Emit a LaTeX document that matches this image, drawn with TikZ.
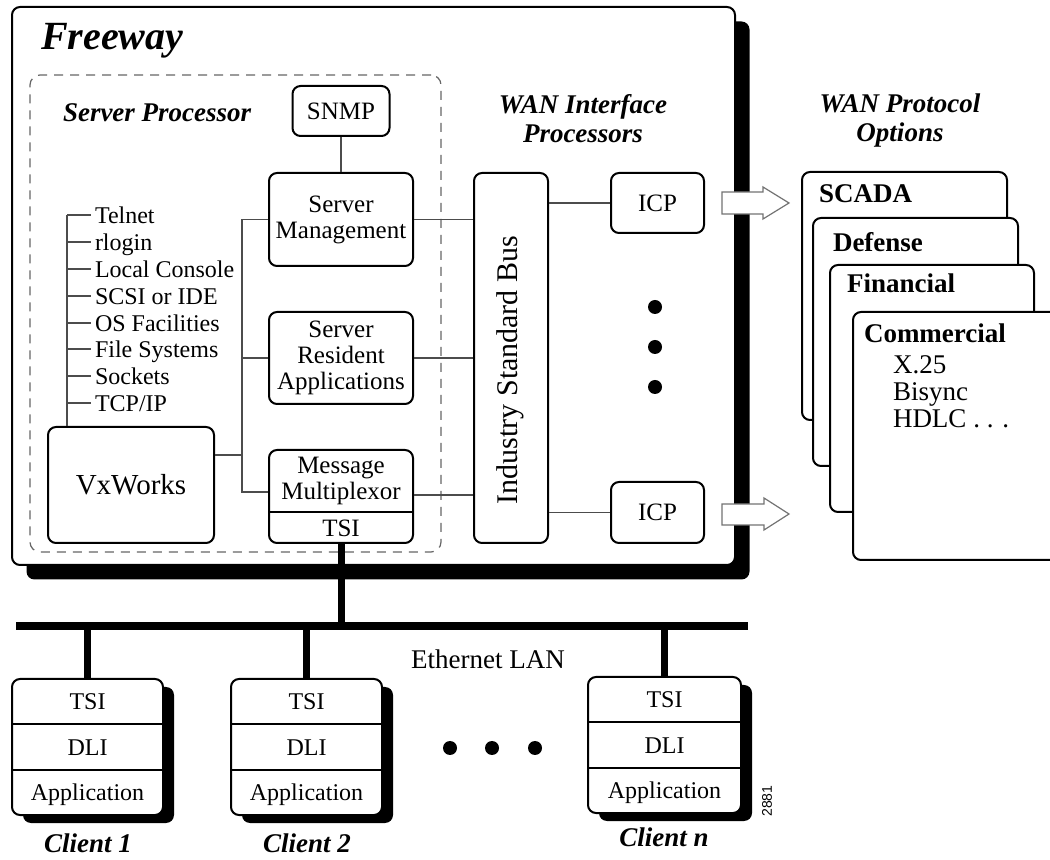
\documentclass[tikz,border=0pt]{standalone}
\usepackage{fontspec}
\setmainfont{Liberation Serif}
\newfontfamily\fignumfont{Liberation Sans}
\usetikzlibrary{positioning}

\tikzset{every picture/.style={line width=1pt}}
\tikzset{
  pbox/.style={draw, fill=white, rounded corners=4pt, line width=1pt, inner sep=0pt, align=center, font=\fontsize{12.5}{13}\selectfont},
  shd/.style={fill=black, rounded corners=4pt, inner sep=0pt},
  link/.style={draw=black!70, line width=0.6pt},
  lanwire/.style={line width=4pt},
  lantap/.style={line width=3.5pt},
  hdr/.style={inner sep=0pt, align=center, font=\fontsize{13.5}{14.5}\selectfont\bfseries\itshape},
  listitem/.style={anchor=west, inner sep=2pt, outer sep=0pt, text height=12pt, text depth=3pt, font=\fontsize{12}{13}\selectfont},
  card/.style={draw, fill=white, rounded corners=4pt, line width=1pt, inner sep=0pt},
  cardtxt/.style={anchor=base west, inner sep=0pt, font=\fontsize{13.5}{14}\selectfont\bfseries},
  prototxt/.style={anchor=base west, inner sep=0pt, font=\fontsize{13.5}{14}\selectfont},
  clientrow/.style={minimum width=75.5pt, minimum height=22.67pt, inner sep=0pt, outer sep=0pt, text height=10.5pt, text depth=2.3pt, font=\fontsize{12}{13}\selectfont},
  wanarrow/.style={draw=black!55, fill=white, line width=0.6pt},
  ellipsisdot/.style={circle, fill=black, minimum size=7pt, inner sep=0pt}
}

\begin{document}
\begin{tikzpicture}[x=0.5pt,y=0.5pt,yscale=-1,xscale=1]
\useasboundingbox (0,0) rectangle (1050,860);

%Freeway chassis with its shadow
\node[shd, minimum width=361.5pt, minimum height=279pt] (fwshd) at (388,300.5) {};
\node[pbox, minimum width=361.5pt, minimum height=279pt] (freeway) at (373.5,286) {};
\node[anchor=base west, inner sep=0pt, font=\fontsize{20}{22}\selectfont\bfseries\itshape] (fwtitle) at (40,50) {Freeway};

%Server Processor
\node[draw=black!60, dash pattern=on 4.5pt off 3.5pt, rounded corners=5pt, line width=0.6pt, minimum width=205.5pt, minimum height=238.5pt, inner sep=0pt] (sp) at (235.5,313.5) {};
\node[hdr, anchor=base west] (sptitle) at (62,122) {Server Processor};

\node[pbox, minimum width=48.5pt, minimum height=25pt] (snmp) at (341,111) {SNMP};
\node[pbox, minimum width=72pt, minimum height=46.5pt] (smgmt) at (341,219.5) {Server\\Management};
\node[pbox, minimum width=72pt, minimum height=46pt] (sra) at (341,358) {Server\\Resident\\Applications};
\node[pbox, minimum width=72pt, minimum height=46.5pt] (mux) at (341,496.5) {};
\node[inner sep=0pt, align=center, font=\fontsize{12.5}{13}\selectfont] (muxtxt) at (341,481) {Message\\Multiplexor};
\node[inner sep=0pt, font=\fontsize{12.5}{13}\selectfont] (muxtsi) at (341,528) {TSI};
\coordinate (muxdiv) at (341,512);
\draw (muxdiv -| mux.west) -- (muxdiv -| mux.east);
\node[pbox, minimum width=83pt, minimum height=58pt, font=\fontsize{14.5}{16}\selectfont] (vxworks) at (131,485) {VxWorks};

%services on top of VxWorks
\coordinate (lst) at (67,215);
\node[listitem] (telnet) at (91,215) {Telnet};
\node[listitem] (rlogin) at (91,242) {rlogin};
\node[listitem] (console) at (91,269) {Local Console};
\node[listitem] (scsi) at (91,296) {SCSI or IDE};
\node[listitem] (osfac) at (91,323) {OS Facilities};
\node[listitem] (filesys) at (91,349) {File Systems};
\node[listitem] (sockets) at (91,376) {Sockets};
\node[listitem] (tcpip) at (91,403) {TCP/IP};
\draw[link] (lst) -- (lst |- vxworks.north);
\draw[link] (telnet.west -| lst) -- (telnet.west);
\draw[link] (rlogin.west -| lst) -- (rlogin.west);
\draw[link] (console.west -| lst) -- (console.west);
\draw[link] (scsi.west -| lst) -- (scsi.west);
\draw[link] (osfac.west -| lst) -- (osfac.west);
\draw[link] (filesys.west -| lst) -- (filesys.west);
\draw[link] (sockets.west -| lst) -- (sockets.west);
\draw[link] (tcpip.west -| lst) -- (tcpip.west);

%links inside the server processor
\coordinate (vjoin) at (242,492);
\coordinate (vxjoin) at (242,455);
\draw[link] (snmp.south) -- (smgmt.north);
\draw[link] (smgmt.west) -| (vjoin) -- (vjoin -| mux.west);
\draw[link] (sra.west) -- (sra.west -| vjoin);
\draw[link] (vxjoin -| vxworks.east) -- (vxjoin);

%WAN interface processors
\node[hdr] (wiptitle) at (583,119) {WAN Interface\\Processors};
\node[pbox, minimum width=37pt, minimum height=185pt] (isbus) at (511,358) {};
\node[inner sep=0pt, rotate=90, font=\fontsize{15}{16}\selectfont] (isbustxt) at (510,370) {Industry Standard Bus};
\coordinate (muxbus) at (440,495);
\draw[link] (smgmt.east) -- (smgmt.east -| isbus.west);
\draw[link] (sra.east) -- (sra.east -| isbus.west);
\draw[link] (muxbus -| mux.east) -- (muxbus -| isbus.west);

\node[pbox, minimum width=46.5pt, minimum height=30pt] (icp1) at (657.5,203) {ICP};
\node[pbox, minimum width=46.5pt, minimum height=30.5pt] (icp2) at (657.5,512.5) {ICP};
\draw[link] (icp1.west -| isbus.east) -- (icp1.west);
\draw[link] (icp2.west -| isbus.east) -- (icp2.west);
\node[ellipsisdot] (vdot1) at (655,307) {};
\node[ellipsisdot] (vdot2) at (655,347) {};
\node[ellipsisdot] (vdot3) at (655,387) {};

%hollow arrows towards the protocol options
\draw[wanarrow] (722,192) -- (763,192) -- (763,187) -- (789,203) -- (763,219) -- (763,214) -- (722,214) -- cycle;
\draw[wanarrow] (722,504) -- (764,504) -- (764,498) -- (789,514) -- (764,530) -- (764,525) -- (722,525) -- cycle;

%WAN protocol options
\node[hdr] (wpotitle) at (900,121) {WAN Protocol\\Options};
\node[card, minimum width=102.5pt, minimum height=124pt] (scada) at (904.5,296) {};
\node[card, minimum width=102.5pt, minimum height=124pt] (defense) at (915.5,342) {};
\node[card, minimum width=102pt, minimum height=123.5pt] (financial) at (932,388.5) {};
\node[card, minimum width=106pt, minimum height=124pt] (commercial) at (959,436) {};
\node[cardtxt] (scadatxt) at (818,203) {SCADA};
\node[cardtxt] (defensetxt) at (832,252) {Defense};
\node[cardtxt] (financialtxt) at (846,293) {Financial};
\node[cardtxt] (commercialtxt) at (863,343) {Commercial};
\node[prototxt] (x25) at (892,374) {X.25};
\node[prototxt] (bisync) at (892,401) {Bisync};
\node[prototxt] (hdlc) at (892,428) {HDLC . . .};

%Ethernet LAN
\coordinate (lanl) at (16,626);
\coordinate (lanr) at (748,626);
\draw[lanwire] (lanl) -- (lanr);
\draw[lantap] (mux.south) -- (mux.south |- lanl);
\node[inner sep=0pt, font=\fontsize{13.5}{14}\selectfont] (lantxt) at (488,659) {Ethernet LAN};

%Client 1
\node[shd, minimum width=75.5pt, minimum height=68pt] (c1shd) at (98.5,755) {};
\node[pbox, minimum width=75.5pt, minimum height=68pt] (c1) at (87.5,747) {};
\node[clientrow] (c1d) at (c1.center) {DLI};
\node[clientrow, above=0pt of c1d] (c1t) {TSI};
\node[clientrow, below=0pt of c1d] (c1a) {Application};
\draw (c1t.south west) -- (c1t.south east);
\draw (c1a.north west) -- (c1a.north east);
\draw[lantap] (c1.north |- lanl) -- (c1.north);
\node[hdr] (c1lbl) at (88,843) {Client 1};

%Client 2
\node[shd, minimum width=75.5pt, minimum height=68pt] (c2shd) at (317.5,755) {};
\node[pbox, minimum width=75.5pt, minimum height=68pt] (c2) at (306.5,747) {};
\node[clientrow] (c2d) at (c2.center) {DLI};
\node[clientrow, above=0pt of c2d] (c2t) {TSI};
\node[clientrow, below=0pt of c2d] (c2a) {Application};
\draw (c2t.south west) -- (c2t.south east);
\draw (c2a.north west) -- (c2a.north east);
\draw[lantap] (c2.north |- lanl) -- (c2.north);
\node[hdr] (c2lbl) at (307,843) {Client 2};

%Client n
\node[shd, minimum width=76.5pt, minimum height=68pt] (cnshd) at (675.5,753) {};
\node[pbox, minimum width=76.5pt, minimum height=68pt] (cn) at (664.5,745) {};
\node[clientrow] (cnd) at (cn.center) {DLI};
\node[clientrow, above=0pt of cnd] (cnt) {TSI};
\node[clientrow, below=0pt of cnd] (cna) {Application};
\draw (cnt.south west) -- (cnt.south east);
\draw (cna.north west) -- (cna.north east);
\draw[lantap] (cn.north |- lanl) -- (cn.north);
\node[hdr] (cnlbl) at (664,837) {Client n};

\node[ellipsisdot] (hdot1) at (450,748) {};
\node[ellipsisdot] (hdot2) at (492,748) {};
\node[ellipsisdot] (hdot3) at (535,748) {};

\node[inner sep=0pt, rotate=90, font=\fignumfont\fontsize{7}{8}\selectfont] (fignum) at (767,801) {2881};

\end{tikzpicture}
\end{document}
